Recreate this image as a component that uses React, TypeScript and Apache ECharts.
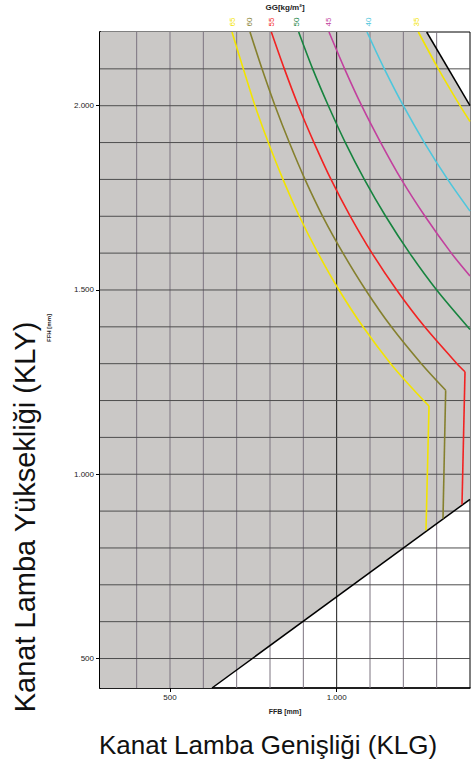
import React, { useEffect, useRef } from "react";
import * as echarts from "echarts";

// ---- axis ticks / grid values ----
const xTickValues = [500, 1000];
const yTickValues = [500, 1000, 1500, 2000];
const xGridValues = [400, 500, 600, 700, 800, 900, 1000, 1100, 1200, 1300];
const yGridValues = [500, 600, 700, 800, 900, 1000, 1100, 1200, 1300, 1400, 1500, 1600, 1700, 1800, 1900, 2000, 2100];
const xMin = 290;
const xMax = 1400;
const yMin = 420;
const yMax = 2200;

// ---- feasible region (grey) and its black boundaries ----
const feasibleRegion = [
  [290, 420], [626, 420], [1400, 932], [1400, 2000], [1270, 2200], [290, 2200],
];
const boundaryLower = [[626, 420], [1400, 932]];
const boundaryUpper = [[1270, 2200], [1400, 2000]];

// ---- GG [kg/m²] curves (curved part) ----
const curveNames = ["65", "60", "55", "50", "45", "40", "35"];
const curveColors = ["#f2e400", "#85802e", "#f22222", "#17843f", "#c2409e", "#4ec6dc", "#f2e400"];
const gg65 = [
  [686, 2200], [720, 2100], [755, 2000], [795, 1900], [839, 1800], [888, 1700], [944, 1600],
  [1007, 1500], [1079, 1400], [1162, 1300], [1230, 1230], [1277, 1185],
];
const gg60 = [
  [740, 2200], [776, 2100], [815, 2000], [858, 1900], [905, 1800], [958, 1700], [1019, 1600],
  [1087, 1500], [1164, 1400], [1254, 1300], [1327, 1228],
];
const gg55 = [
  [804, 2200], [843, 2100], [885, 2000], [932, 1900], [983, 1800], [1041, 1700], [1106, 1600],
  [1180, 1500], [1264, 1400], [1361, 1300], [1385, 1278],
];
const gg50 = [
  [886, 2200], [928, 2100], [975, 2000], [1026, 1900], [1083, 1800], [1147, 1700], [1219, 1600],
  [1300, 1500], [1400, 1393],
];
const gg45 = [
  [977, 2200], [1024, 2100], [1075, 2000], [1132, 1900], [1194, 1800], [1265, 1700], [1344, 1600],
  [1400, 1538],
];
const gg40 = [
  [1091, 2200], [1143, 2100], [1200, 2000], [1263, 1900], [1333, 1800], [1400, 1714],
];
const gg35 = [
  [1245, 2200], [1305, 2100], [1370, 2000], [1400, 1957],
];
// ---- near-vertical lower parts of 65, 60, 55 ----
const gg65Vertical = [[1277, 1185], [1268, 848]];
const gg60Vertical = [[1327, 1228], [1319, 880]];
const gg55Vertical = [[1385, 1278], [1376, 918]];

const curves = [gg65, gg60, gg55, gg50, gg45, gg40, gg35];
const verticals = [gg65Vertical, gg60Vertical, gg55Vertical];
// label pixel x positions at the top of the chart
const curveLabelX = [232, 249, 271, 296, 328, 368, 416];

const fmt = (v: number) => {
  if (v >= 1000) {
    const t = Math.floor(v / 1000);
    const r = String(v % 1000).padStart(3, "0");
    return t + "." + r;
  }
  return String(v);
};

const FONT = "Liberation Sans, Arial, sans-serif";

export default function App() {
  const ref = useRef<HTMLDivElement>(null);
  useEffect(() => {
    if (!ref.current) return;
    const chart = echarts.init(ref.current, null, { renderer: "svg" });

    const curveSeries = curves.map((c, i) => ({
      type: "line",
      name: curveNames[i],
      data: c,
      showSymbol: false,
      symbol: "none",
      smooth: 0.3,
      lineStyle: { color: curveColors[i], width: 1.6 },
      z: 5,
      silent: true,
    }));
    const verticalSeries = verticals.map((c, i) => ({
      type: "line",
      name: curveNames[i] + "v",
      data: c,
      showSymbol: false,
      symbol: "none",
      smooth: false,
      lineStyle: { color: curveColors[i], width: 1.6 },
      z: 5,
      silent: true,
    }));

    const labelGraphics = curveNames.map((n, i) => ({
      type: "text",
      x: curveLabelX[i],
      y: 22,
      rotation: Math.PI / 2,
      style: {
        text: n,
        fill: curveColors[i],
        font: `8px ${FONT}`,
        align: "center",
        verticalAlign: "middle",
      },
    }));

    const option: any = {
      animation: false,
      backgroundColor: "#ffffff",
      grid: {
        left: 100,
        right: 4,
        top: 32,
        bottom: 77,
        show: true,
        borderColor: "#000",
        borderWidth: 1,
        backgroundColor: "transparent",
      },
      xAxis: {
        type: "value",
        min: xMin,
        max: xMax,
        splitLine: { show: false },
        axisLine: { show: true, onZero: false, lineStyle: { color: "#000", width: 1.5 } },
        axisTick: { show: true, customValues: xTickValues, length: 4, lineStyle: { color: "#000" } },
        axisLabel: {
          customValues: xTickValues,
          formatter: fmt,
          fontSize: 8,
          color: "#222",
          fontFamily: FONT,
          margin: 5,
        },
        name: "FFB [mm]",
        nameLocation: "middle",
        nameGap: 20,
        nameTextStyle: { fontSize: 7, fontWeight: "bold", color: "#222", fontFamily: FONT },
      },
      yAxis: {
        type: "value",
        min: yMin,
        max: yMax,
        splitLine: { show: false },
        axisLine: { show: true, onZero: false, lineStyle: { color: "#000", width: 2 } },
        axisTick: { show: true, customValues: yTickValues, length: 4, lineStyle: { color: "#000" } },
        axisLabel: {
          customValues: yTickValues,
          formatter: fmt,
          fontSize: 8,
          color: "#222",
          fontFamily: FONT,
          margin: 6,
        },
      },
      graphic: [
        {
          type: "text",
          x: 285,
          y: 7,
          style: { text: "GG[kg/m²]", fill: "#222", font: `bold 8px ${FONT}`, align: "center", verticalAlign: "middle" },
        },
        ...labelGraphics,
        {
          type: "text",
          x: 49,
          y: 328,
          rotation: Math.PI / 2,
          style: { text: "FFH [mm]", fill: "#222", font: `bold 6px ${FONT}`, align: "center", verticalAlign: "middle" },
        },
        {
          type: "text",
          x: 25,
          y: 517,
          rotation: Math.PI / 2,
          style: { text: "Kanat Lamba Yüksekliği (KLY)", fill: "#111", font: `29px ${FONT}`, align: "center", verticalAlign: "middle" },
        },
        {
          type: "text",
          x: 268,
          y: 745,
          style: { text: "Kanat Lamba Genişliği (KLG)", fill: "#111", font: `26px ${FONT}`, align: "center", verticalAlign: "middle" },
        },
      ],
      series: [
        {
          type: "custom",
          silent: true,
          z: 1,
          data: [[xMin, yMin]],
          renderItem: (_p: any, api: any) => ({
            type: "polygon",
            shape: { points: feasibleRegion.map((p) => api.coord(p)) },
            style: { fill: "#cac8c6" },
          }),
        },
        {
          type: "custom",
          silent: true,
          z: 2,
          data: xGridValues.map((v) => [v, yMin]),
          renderItem: (_p: any, api: any) => {
            const v = api.value(0);
            const a = api.coord([v, yMin]);
            const b = api.coord([v, yMax]);
            return {
              type: "line",
              shape: { x1: a[0], y1: a[1], x2: b[0], y2: b[1] },
              style: { stroke: v === 1000 ? "#1a1a1a" : "#7c7480", lineWidth: 1 },
            };
          },
        },
        {
          type: "custom",
          silent: true,
          z: 2,
          data: yGridValues.map((v) => [xMin, v]),
          renderItem: (_p: any, api: any) => {
            const v = api.value(1);
            const a = api.coord([xMin, v]);
            const b = api.coord([xMax, v]);
            return {
              type: "line",
              shape: { x1: a[0], y1: a[1], x2: b[0], y2: b[1] },
              style: { stroke: "#4e4e4e", lineWidth: 1 },
            };
          },
        },
        {
          type: "line",
          data: boundaryLower,
          showSymbol: false,
          symbol: "none",
          lineStyle: { color: "#000", width: 1.5 },
          z: 4,
          silent: true,
        },
        {
          type: "line",
          data: boundaryUpper,
          showSymbol: false,
          symbol: "none",
          lineStyle: { color: "#000", width: 1.5 },
          z: 4,
          silent: true,
        },
        ...curveSeries,
        ...verticalSeries,
      ],
    };
    chart.setOption(option);
    return () => chart.dispose();
  }, []);
  return (
    <div
      ref={ref}
      style={{ position: "fixed", left: 0, top: 0, width: 474, height: 765, background: "#fff" }}
    />
  );
}
